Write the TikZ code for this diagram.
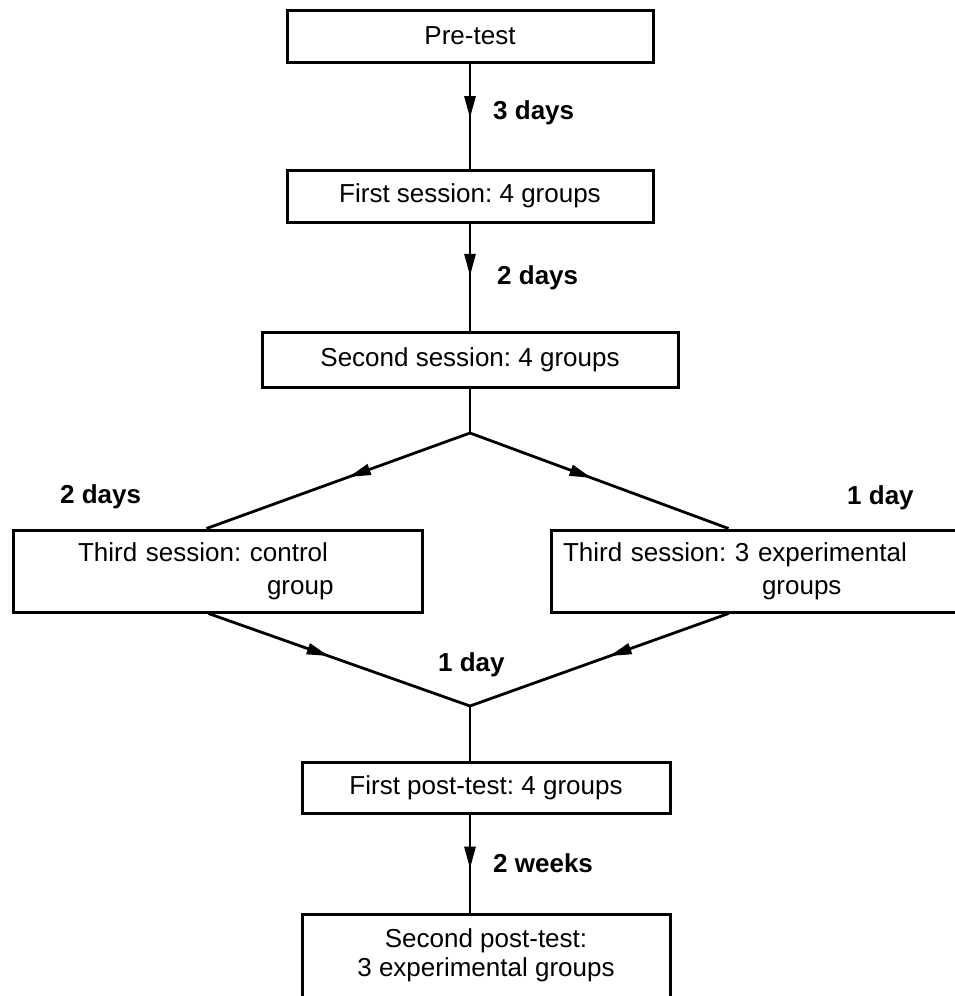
\documentclass[tikz,border=0pt]{standalone}
\usepackage{fontspec}
\setmainfont{Liberation Sans}
\usetikzlibrary{arrows.meta,decorations.markings,calc}
\begin{document}
\frenchspacing
\begin{tikzpicture}[x=1pt,y=-1pt,
  box/.style={draw, line width=3pt, inner sep=0pt, font=\fontsize{26}{33}\selectfont},
  lbl/.style={anchor=west, inner sep=0pt, font=\fontsize{26}{32}\selectfont\bfseries},
  conn/.style={line width=2.8pt},
  midarrow/.style={postaction={decorate}, decoration={markings, mark=at position #1 with {\arrow{Triangle[length=22pt,width=11pt]}}}}
]
\useasboundingbox (0,0) rectangle (955,996);
\clip (0,0) rectangle (955,996);

\node[box, minimum width=366pt, minimum height=52pt] (pre) at (470,36) {Pre-test};
\node[box, minimum width=366pt, minimum height=52pt] (s1) at (470,196) {First session: 4 groups};
\node[box, minimum width=416pt, minimum height=55pt] (s2) at (470,359.5) {Second session: 4 groups};
\node[box, minimum width=409pt, minimum height=82pt, text width=279pt, align=left] (ctl) at (217.5,571) {Third session: control\\\hspace*{189pt}group};
\node[box, minimum width=414pt, minimum height=82pt, text width=390pt, align=left] (exp) at (758,571) {Third session: 3 experimental\\\hspace*{199pt}groups};
\node[box, minimum width=368pt, minimum height=51pt] (p1) at (486,787.5) {First post-test: 4 groups};
\node[box, anchor=north, minimum width=368pt, inner ysep=14pt, align=center, text depth=80pt, font=\fontsize{26}{29}\selectfont] (p2) at (486,913) {Second post-test:\\3 experimental groups};

\coordinate (br) at (470,433);
\coordinate (mg) at (470,706);

\draw[conn, midarrow=0.52] (pre.south) -- (s1.north);
\draw[conn, midarrow=0.49] (s1.south) -- (s2.north);
\draw[conn] (s2.south) -- (br);
\draw[conn, midarrow=0.46] (br) -- ($(ctl.north west)+(195,0)$);
\draw[conn, midarrow=0.47] (br) -- ($(exp.north west)+(179,0)$);
\draw[conn, midarrow=0.46] ($(ctl.south west)+(197,0)$) -- (mg);
\draw[conn, midarrow=0.46] ($(exp.south west)+(179,0)$) -- (mg);
\draw[conn] (mg) -- (mg |- p1.north);
\draw[conn, midarrow=0.55] (p1.south -| mg) -- (p2.north -| mg);

\node[lbl] (l1) at (493,113) {3 days};
\node[lbl] (l2) at (497,278) {2 days};
\node[lbl] (l3) at (60,497) {2 days};
\node[lbl] (l4) at (847,498) {1 day};
\node[lbl] (l5) at (438,665) {1 day};
\node[lbl] (l6) at (493,863) {2 weeks};
\end{tikzpicture}
\end{document}
